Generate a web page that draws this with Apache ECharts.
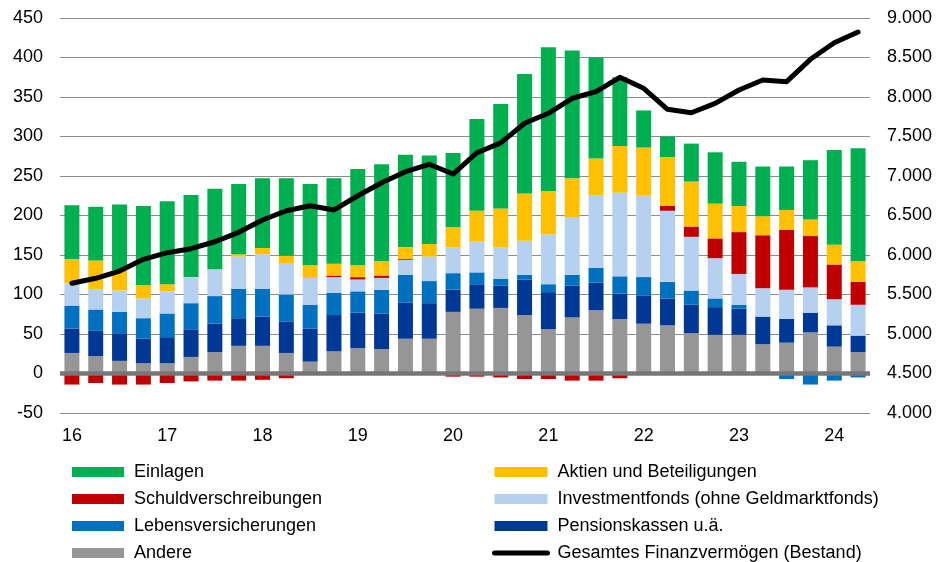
<!DOCTYPE html>
<html>
<head>
<meta charset="utf-8">
<script src="https://cdn.jsdelivr.net/npm/echarts@6/dist/echarts.min.js"></script>
<style>
  html, body { margin: 0; padding: 0; background: #fff; }
  #chart { width: 947px; height: 562px; }
</style>
</head>
<body>
<div id="chart"></div>
<script>
// Quartale 2016 Q1 - 2024 Q2
var quartale = ['16Q1','16Q2','16Q3','16Q4','17Q1','17Q2','17Q3','17Q4','18Q1','18Q2','18Q3','18Q4',
  '19Q1','19Q2','19Q3','19Q4','20Q1','20Q2','20Q3','20Q4','21Q1','21Q2','21Q3','21Q4',
  '22Q1','22Q2','22Q3','22Q4','23Q1','23Q2','23Q3','23Q4','24Q1','24Q2'];
var jahre = ['16','17','18','19','20','21','22','23','24'];

// Transaktionen (Mrd €), linke Achse
var andere = [26,22,16,13,13,21,27,35,35,26,15,28,32,31,44,44,78,82,83,74,56,71,80,69,63,61,51,49,49,37,39,52,34,27];
var pension = [31,32,35,31,33,35,36,35,37,40,42,46,45,45,46,45,28,31,28,45,47,40,35,32,36,34,36,35,33,35,30,25,27,21];
var leben = [29,27,27,26,30,33,35,37,35,34,30,28,27,30,35,28,21,15,9,6,10,14,19,22,23,21,18,11,5,0,-7,-14,-9,-5];
var invest = [28,26,27,25,28,33,34,41,44,39,34,20,15,15,19,31,33,39,40,43,63,73,92,106,103,90,68,51,39,36,37,32,33,39];
var schuld = [-14,-12,-14,-14,-12,-10,-9,-9,-8,-6,-1,2,3,3,1,0,-4,-4,-5,-7,-7,-9,-9,-6,0,6,13,25,53,67,76,65,44,29];
var aktien = [31,36,26,17,9,0,0,3,8,10,16,15,15,18,15,16,25,39,49,60,55,49,46,59,61,62,57,44,33,24,25,21,25,26];
var einlagen = [68,68,83,100,105,104,102,89,88,98,103,108,122,123,117,112,94,116,132,151,182,162,128,87,47,26,48,65,56,63,55,75,120,143];

// Bestand (Mrd €), rechte Achse
var bestand = [5642,5705,5797,5945,6029,6080,6168,6287,6443,6560,6624,6570,6750,6915,7054,7148,7025,7295,7420,7667,
  7794,7984,8067,8249,8110,7844,7801,7920,8089,8215,8194,8477,8687,8823];

var FONT = 'Liberation Sans, Arial, sans-serif';

var myChart = echarts.init(document.getElementById('chart'));

function balken(name, data, color, extra) {
  var s = {
    name: name,
    type: 'bar',
    stack: 'fluss',
    barWidth: 15,
    data: data,
    itemStyle: { color: color },
    emphasis: { disabled: true }
  };
  if (extra) {
    for (var k in extra) s[k] = extra[k];
  }
  return s;
}

var legendText = { fontSize: 18, fontFamily: FONT, color: '#000', lineHeight: 18, padding: [0, 0, 0, 5] };

var option = {
  animation: false,
  grid: { left: 60, right: 77, top: 18, bottom: 149 },
  legend: [
    {
      orient: 'vertical', left: 72, top: 463, padding: 0,
      itemWidth: 52, itemHeight: 10, itemGap: 9,
      textStyle: legendText,
      data: [
        { name: 'Einlagen', icon: 'rect' },
        { name: 'Schuldverschreibungen', icon: 'rect' },
        { name: 'Lebensversicherungen', icon: 'rect' },
        { name: 'Andere', icon: 'rect' }
      ]
    },
    {
      orient: 'vertical', left: 492, top: 463, padding: 0,
      itemWidth: 53, itemHeight: 10, itemGap: 9,
      textStyle: legendText,
      data: [
        { name: 'Aktien und Beteiligungen', icon: 'rect' },
        { name: 'Investmentfonds (ohne Geldmarktfonds)', icon: 'rect' },
        { name: 'Pensionskassen u.ä.', icon: 'rect' },
        {
          // dicke Linie ohne Punkt
          name: 'Gesamtes Finanzvermögen (Bestand)',
          lineStyle: { width: 5, cap: 'round', color: '#000' },
          itemStyle: { color: 'rgba(0,0,0,0)', borderWidth: 0, opacity: 0 }
        }
      ]
    }
  ],
  xAxis: {
    type: 'category',
    data: quartale,
    boundaryGap: true,
    axisLine: { show: false },
    axisTick: { show: false },
    axisLabel: {
      interval: 0,
      margin: 14,
      fontSize: 18,
      fontFamily: FONT,
      color: '#000',
      formatter: function (v) {
        // nur beim ersten Quartal das Jahr zeigen
        if (v.slice(2) !== 'Q1') return '';
        var j = v.slice(0, 2);
        return jahre.indexOf(j) >= 0 ? j : '';
      }
    }
  },
  yAxis: [
    {
      type: 'value',
      min: -50, max: 450, interval: 50,
      axisLine: { show: false },
      axisTick: { show: false },
      axisLabel: { fontSize: 18, fontFamily: FONT, color: '#000', margin: 17 },
      splitLine: { lineStyle: { color: '#8c8c8c', width: 1 } }
    },
    {
      type: 'value',
      min: 4000, max: 9000, interval: 500,
      axisLine: { show: false },
      axisTick: { show: false },
      splitLine: { show: false },
      axisLabel: {
        fontSize: 18, fontFamily: FONT, color: '#000', margin: 17,
        formatter: function (v) {
          var s = String(v);
          return s.slice(0, s.length - 3) + '.' + s.slice(-3);
        }
      }
    }
  ],
  series: [
    balken('Andere', andere, '#969696', {
      markLine: {
        silent: true,
        symbol: 'none',
        label: { show: false },
        lineStyle: { color: '#767676', width: 4.5, type: 'solid' },
        data: [{ yAxis: 0 }]
      }
    }),
    balken('Pensionskassen u.ä.', pension, '#003896'),
    balken('Lebensversicherungen', leben, '#0070C0'),
    balken('Investmentfonds (ohne Geldmarktfonds)', invest, '#B5D1EF'),
    balken('Schuldverschreibungen', schuld, '#C00000'),
    balken('Aktien und Beteiligungen', aktien, '#FFC000'),
    balken('Einlagen', einlagen, '#00B050'),
    {
      name: 'Gesamtes Finanzvermögen (Bestand)',
      type: 'line',
      yAxisIndex: 1,
      data: bestand,
      symbol: 'none',
      z: 5,
      color: '#000',
      lineStyle: { color: '#000', width: 5, cap: 'round', join: 'round' },
      emphasis: { disabled: true }
    }
  ]
};

myChart.setOption(option);
</script>
</body>
</html>
